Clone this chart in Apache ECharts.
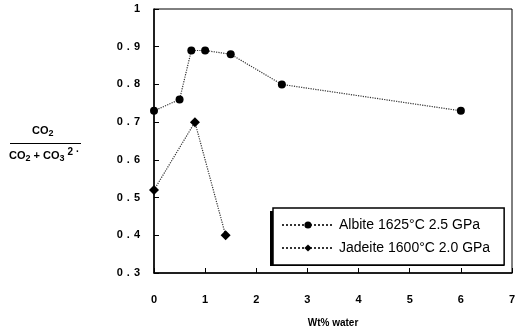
<!DOCTYPE html>
<html><head><meta charset="utf-8">
<script src="https://cdn.jsdelivr.net/npm/echarts@6/dist/echarts.min.js"></script>
<style>html,body{margin:0;padding:0;background:#fff}#c{width:525px;height:333px}</style>
</head><body><div id="c"></div>
<script>
var albiteName = 'Albite 1625°C 2.5 GPa';
var jadeiteName = 'Jadeite 1600°C 2.0 GPa';
var albiteX = [0, 0.5, 0.73, 1.0, 1.5, 2.5, 6.0];
var albiteY = [0.73, 0.76, 0.89, 0.89, 0.88, 0.80, 0.73];
var jadeiteX = [0, 0.8, 1.4];
var jadeiteY = [0.52, 0.70, 0.40];
var xTicks = [0, 1, 2, 3, 4, 5, 6, 7];
var yTicks = [0.3, 0.4, 0.5, 0.6, 0.7, 0.8, 0.9, 1];
var xTitle = 'Wt% water';

function pairs(xs, ys){ return xs.map(function(x,i){ return [x, ys[i]]; }); }
var font = 'Liberation Sans, Arial, sans-serif';
var chart = echarts.init(document.getElementById('c'));
chart.setOption({
  animation: false,
  backgroundColor: '#fff',
  grid: {left: 154, right: 13, top: 9, bottom: 57, show: true, borderColor: '#000', borderWidth: 1},
  xAxis: {
    type: 'value', min: xTicks[0], max: xTicks[xTicks.length-1], interval: 1,
    name: xTitle, nameLocation: 'middle', nameGap: 45,
    nameTextStyle: {fontFamily: font, fontWeight: 'bold', fontSize: 10, color: '#000'},
    axisLine: {lineStyle: {color: '#000', width: 1.5}},
    axisTick: {inside: true, length: 5, lineStyle: {color: '#000'}},
    axisLabel: {margin: 21, fontFamily: font, fontWeight: 'bold', fontSize: 11, color: '#000',
      formatter: function(v){ return xTicks.indexOf(v) >= 0 ? String(v) : ''; }},
    splitLine: {show: false}
  },
  yAxis: {
    type: 'value', min: yTicks[0], max: yTicks[yTicks.length-1], interval: 0.1,
    axisLine: {lineStyle: {color: '#000', width: 1.5}},
    axisTick: {inside: true, length: 5, lineStyle: {color: '#000'}},
    axisLabel: {margin: 14, fontFamily: font, fontWeight: 'bold', fontSize: 11, color: '#000',
      formatter: function(v){
        var r = Math.round(v*10)/10;
        if (r === 1) return '{d|1}';
        var s = r.toFixed(1);
        return '{d|' + s.charAt(0) + '}{p|.}{d|' + s.charAt(2) + '}';
      },
      rich: {d: {fontFamily: font, fontWeight: 'bold', fontSize: 11, color: '#000'},
             p: {fontFamily: font, fontWeight: 'bold', fontSize: 11, color: '#000', padding: [0, 4, 0, 4]}}
    },
    splitLine: {show: false}
  },
  legend: {
    left: 273, top: 208, orient: 'vertical',
    padding: [10, 14, 10, 8], itemGap: 9, itemWidth: 52, itemHeight: 9,
    backgroundColor: '#fff', borderColor: '#000', borderWidth: 1.5,
    textStyle: {fontFamily: font, fontSize: 14, color: '#000'},
    data: [albiteName, jadeiteName]
  },
  graphic: [{
    type: 'rect', left: 270, top: 211, z: -1, silent: true,
    shape: {width: 234, height: 55}, style: {fill: '#000'}
  }, {
    type: 'text', left: 32, top: 125,
    style: {
      text: '{n|CO}{s|2}', fontFamily: font,
      rich: {n: {fontSize: 11, fontWeight: 'bold', fill: '#000'}, s: {fontSize: 9, fontWeight: 'bold', fill: '#000', padding: [6,0,0,0]}}
    }
  }, {
    type: 'line', shape: {x1: 10, y1: 143.5, x2: 81, y2: 143.5}, style: {stroke: '#000', lineWidth: 1.2}
  }, {
    type: 'text', left: 9, top: 147,
    style: {
      text: '{n|CO}{s|2}{n| + CO}{s|3}{p|2 ·}', fontFamily: font,
      rich: {n: {fontSize: 11, fontWeight: 'bold', fill: '#000'},
             s: {fontSize: 9, fontWeight: 'bold', fill: '#000', padding: [6,0,0,0]},
             p: {fontSize: 10, fontWeight: 'bold', fill: '#000', padding: [0,0,8,3]}}
    }
  }],
  series: [{
    name: albiteName, type: 'line', data: pairs(albiteX, albiteY),
    symbol: 'circle', symbolSize: 8,
    itemStyle: {color: '#000'},
    lineStyle: {type: 'dotted', width: 1.2, color: '#333'}
  }, {
    name: jadeiteName, type: 'line', data: pairs(jadeiteX, jadeiteY),
    symbol: 'diamond', symbolSize: 10,
    itemStyle: {color: '#000'},
    lineStyle: {type: 'dotted', width: 1.2, color: '#333'}
  }]
});
</script></body></html>
